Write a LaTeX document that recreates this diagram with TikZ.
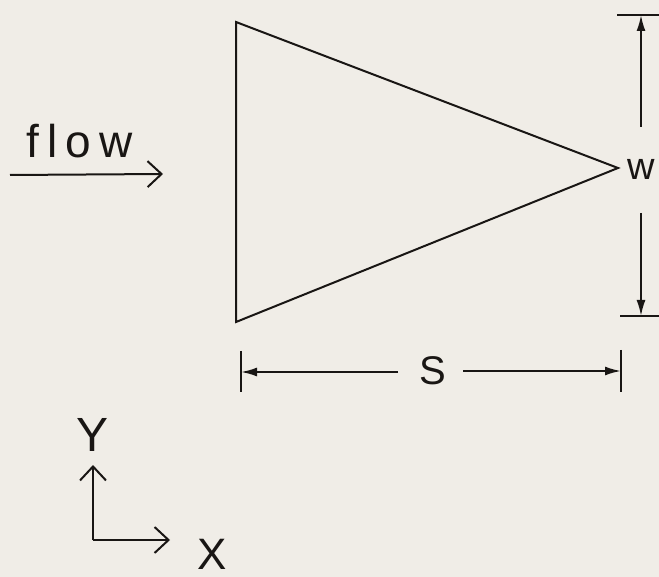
\documentclass[tikz,border=0pt]{standalone}
\usepackage{fontspec}
\setmainfont{Liberation Sans}
\usetikzlibrary{arrows.meta}
\definecolor{paper}{RGB}{240,237,231}
\definecolor{ink}{RGB}{25,22,20}
\tikzset{
  ln/.style={draw=ink, line width=2pt},
  dimarrow/.style={ln, -{Latex[length=16pt,width=9pt]}},
  openarrow/.style={ln, -{Straight Barb[length=14pt,width=26pt]}},
  lbl/.style={text=ink, inner sep=0pt, font=\fontsize{#1}{#1}\selectfont},
}
\begin{document}
\begin{tikzpicture}[x=1pt,y=-1pt]
\fill[paper] (0,0) rectangle (659,577);
\useasboundingbox (0,0) rectangle (659,577);
% triangle
\coordinate (t1) at (236,22);
\coordinate (t2) at (236,322);
\coordinate (t3) at (618,168);
\draw[ln, line join=miter] (t1) -- (t3) -- (t2) -- cycle;
% flow
\node[lbl=46, anchor=base west] (flow) at (26,158) {\addfontfeature{LetterSpace=18}flow};
\coordinate (fa) at (10,175);
\coordinate (fb) at (163,174);
\draw[openarrow] (fa) -- (fb);
% W dimension
\coordinate (wt1) at (617,15);
\coordinate (wt2) at (659,15);
\coordinate (wb1) at (620,316);
\coordinate (wb2) at (659,316);
\coordinate (wtop) at (641,15);
\coordinate (wbot) at (641,316);
\node[lbl=38] (w) at (641,169) {w};
\coordinate (wu) at (641,127);
\coordinate (wl) at (641,213);
\draw[ln] (wt1) -- (wt2);
\draw[ln] (wb1) -- (wb2);
\draw[dimarrow] (wu) -- (wtop);
\draw[dimarrow] (wl) -- (wbot);
% S dimension
\coordinate (sl1) at (241,351);
\coordinate (sl2) at (241,392);
\coordinate (sr1) at (621,350);
\coordinate (sr2) at (621,392);
\coordinate (sleft) at (241,372);
\coordinate (sright) at (621,371);
\node[lbl=40] (s) at (433,371) {S};
\coordinate (sa) at (398,372);
\coordinate (sb) at (463,371);
\draw[ln] (sl1) -- (sl2);
\draw[ln] (sr1) -- (sr2);
\draw[dimarrow] (sa) -- (sleft);
\draw[dimarrow] (sb) -- (sright);
% axes
\coordinate (o) at (93,540);
\coordinate (yt) at (93,465);
\coordinate (xt) at (170,540);
\draw[openarrow] (o) -- (yt);
\draw[openarrow] (o) -- (xt);
\node[lbl=48] (ylab) at (93,435) {Y};
\node[lbl=44] (xlab) at (212,554) {X};
\end{tikzpicture}
\end{document}
